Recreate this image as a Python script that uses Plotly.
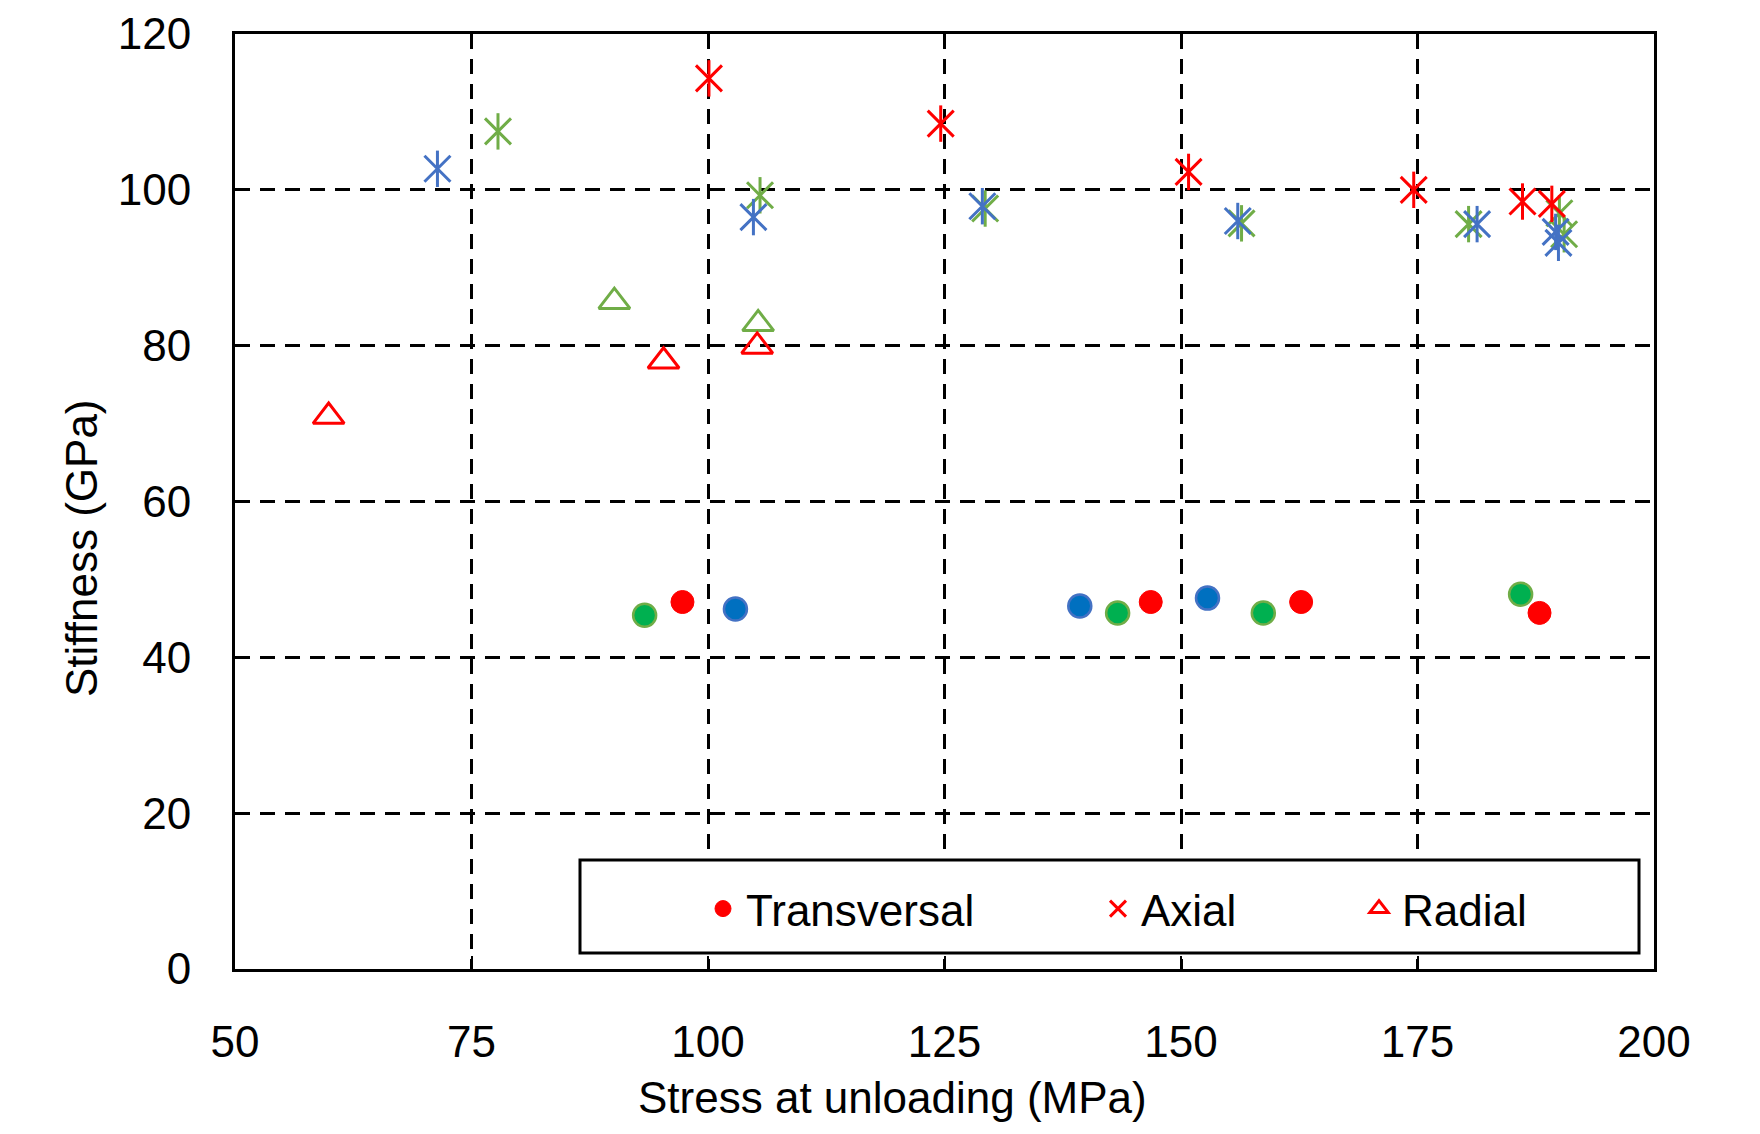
import plotly.graph_objects as go

# ---------------- data ----------------
# Transversal (circles)
trans_red_x = [97.3, 146.8, 162.7, 187.9]
trans_red_y = [47.1, 47.1, 47.1, 45.7]
trans_green_x = [93.3, 143.3, 158.7, 185.9]
trans_green_y = [45.4, 45.7, 45.7, 48.1]
trans_blue_x = [102.9, 139.3, 152.8]
trans_blue_y = [46.2, 46.6, 47.6]

# Axial (stars)
axial_red_x = [100.1, 124.6, 150.8, 174.6, 186.1, 189.2]
axial_red_y = [114.3, 108.5, 102.3, 100.0, 98.5, 98.2]
axial_green_x = [77.8, 105.5, 129.3, 156.4, 180.4, 190.0, 190.5]
axial_green_y = [107.5, 99.3, 97.6, 95.7, 95.6, 97.0, 94.3]
axial_blue_x = [71.4, 104.8, 129.0, 156.0, 181.3, 189.6, 189.9]
axial_blue_y = [102.7, 96.5, 97.9, 96.0, 95.6, 94.6, 93.2]

# Radial (open triangles)
radial_red_x = [59.9, 95.3, 105.2]
radial_red_y = [70.9, 78.0, 79.9]
radial_green_x = [90.1, 105.3]
radial_green_y = [85.65, 82.8]

x_ticks = [50, 75, 100, 125, 150, 175, 200]
y_ticks = [0, 20, 40, 60, 80, 100, 120]

x_title = "Stress at unloading (MPa)"
y_title = "Stiffness (GPa)"

RED = "#ff0000"
GREEN = "#70ad47"
GREEN_FILL = "#00b050"
BLUE = "#4472c4"
BLUE_FILL = "#0070c0"

FONT = "Liberation Sans, Arial, sans-serif"
FS = 44

W, H = 1760, 1134
L, R, T, B = 235, 106, 34, 165
PW, PH = W - L - R, H - T - B


def px_x(px):
    return (px - L) / PW


def px_y(py):
    return (H - B - py) / PH


fig = go.Figure()

# circles
fig.add_trace(go.Scatter(x=trans_green_x, y=trans_green_y, mode="markers", showlegend=False,
                         marker=dict(symbol="circle", size=23, color=GREEN_FILL,
                                     line=dict(color=GREEN, width=2.5))))
fig.add_trace(go.Scatter(x=trans_blue_x, y=trans_blue_y, mode="markers", showlegend=False,
                         marker=dict(symbol="circle", size=23, color=BLUE_FILL,
                                     line=dict(color=BLUE, width=2.5))))
fig.add_trace(go.Scatter(x=trans_red_x, y=trans_red_y, mode="markers", name="Transversal",
                         legend="legend",
                         marker=dict(symbol="circle", size=23, color=RED,
                                     line=dict(color=RED, width=1))))


# stars = x-thin + vertical line
def add_star(xs, ys, color, name=None, legend=None):
    fig.add_trace(go.Scatter(x=xs, y=ys, mode="markers", showlegend=False, hoverinfo="skip",
                             marker=dict(symbol="line-ns-open", size=26, color=color,
                                         line=dict(color=color, width=3))))
    fig.add_trace(go.Scatter(x=xs, y=ys, mode="markers", name=name,
                             showlegend=name is not None, legend=legend,
                             marker=dict(symbol="x-thin-open", size=26, color=color,
                                         line=dict(color=color, width=3))))


add_star(axial_green_x, axial_green_y, GREEN)
add_star(axial_blue_x, axial_blue_y, BLUE)
add_star(axial_red_x, axial_red_y, RED, name="Axial", legend="legend2")

# triangles
fig.add_trace(go.Scatter(x=radial_green_x, y=radial_green_y, mode="markers", showlegend=False,
                         marker=dict(symbol="triangle-up-open", size=27, color=GREEN,
                                     line=dict(color=GREEN, width=3))))
fig.add_trace(go.Scatter(x=radial_red_x, y=radial_red_y, mode="markers", name="Radial",
                         legend="legend3",
                         marker=dict(symbol="triangle-up-open", size=27, color=RED,
                                     line=dict(color=RED, width=3))))

axis_common = dict(
    showline=True, linecolor="black", linewidth=3, mirror=True,
    showgrid=True, gridcolor="black", gridwidth=3, griddash="15px,10px",
    ticks="inside", ticklen=13, tickwidth=2, tickcolor="black",
    zeroline=False, automargin=False,
    tickfont=dict(family=FONT, size=FS, color="black"),
)

fig.update_xaxes(range=[50, 200], tickvals=x_ticks, ticktext=[str(v) for v in x_ticks],
                 ticklabelstandoff=32, **axis_common)
fig.update_yaxes(range=[0, 120], tickvals=y_ticks, ticktext=[str(v) for v in y_ticks],
                 ticklabelstandoff=32, **axis_common)

leg_common = dict(orientation="h", xanchor="left", yanchor="middle",
                  bgcolor="rgba(0,0,0,0)", borderwidth=0, itemwidth=36,
                  font=dict(family=FONT, size=FS, color="black"))
leg_y = px_y(909)
fig.update_layout(
    width=W, height=H,
    margin=dict(l=L, r=R, t=T, b=B),
    paper_bgcolor="white", plot_bgcolor="white",
    legend=dict(x=px_x(724 - 24), y=leg_y, **leg_common),
    legend2=dict(x=px_x(1119 - 24), y=leg_y, **leg_common),
    legend3=dict(x=px_x(1380 - 24), y=leg_y, **leg_common),
    shapes=[dict(type="rect", xref="paper", yref="paper",
                 x0=px_x(580), x1=px_x(1639), y0=px_y(953), y1=px_y(860),
                 line=dict(color="black", width=3), fillcolor="white", layer="above")],
    annotations=[
        dict(text=x_title, xref="paper", yref="paper", x=px_x(892), y=px_y(1097),
             xanchor="center", yanchor="middle", showarrow=False,
             font=dict(family=FONT, size=FS, color="black")),
        dict(text=y_title, xref="paper", yref="paper", x=px_x(81), y=px_y(548),
             xanchor="center", yanchor="middle", showarrow=False, textangle=-90,
             font=dict(family=FONT, size=FS, color="black")),
    ],
)

fig.write_html("out.html")
